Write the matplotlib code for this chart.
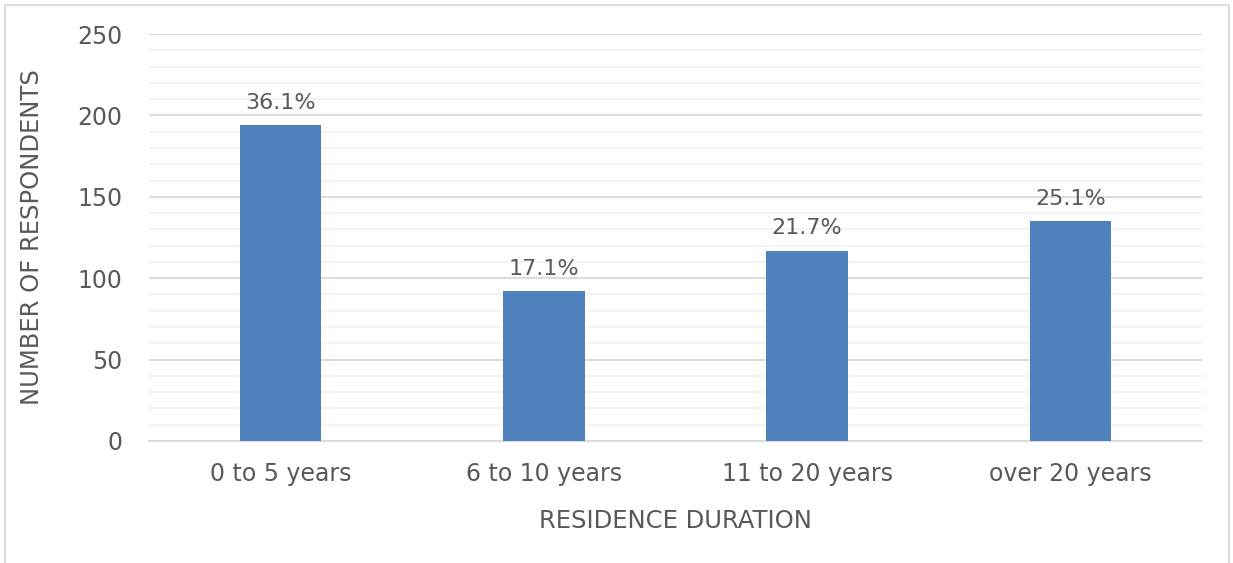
import matplotlib.pyplot as plt
from matplotlib.lines import Line2D
import numpy as np

plt.rcParams['font.family'] = ['DejaVu Sans']

categories = ['0 to 5 years', '6 to 10 years', '11 to 20 years', 'over 20 years']
counts = [194, 92, 117, 135]
y_ticks = [0, 50, 100, 150, 200, 250]

text_color = '#595959'
bar_color = '#4F81BD'

total = sum(counts)
shares = [c / total * 100 for c in counts]

fig = plt.figure(figsize=(12.33, 5.63), dpi=100)
ax = fig.add_axes([149 / 1233, 1 - 441 / 563, (1202 - 149) / 1233, (441 - 34) / 563])

x = np.arange(len(categories))
bars = ax.bar(x, counts, width=0.31, color=bar_color, zorder=3)

for b, s in zip(bars, shares):
    ax.annotate(f'{s:.1f}%', (b.get_x() + b.get_width() / 2, b.get_height()),
                xytext=(0, 12), textcoords='offset points', ha='center', va='baseline',
                fontsize=16, color=text_color)

ax.set_xlim(-0.5, len(categories) - 0.5)
ax.set_ylim(0, 250)
ax.set_yticks(y_ticks)
ax.set_yticks(np.arange(0, 251, 10), minor=True)
ax.set_xticks(x)
ax.set_xticklabels(categories)
ax.grid(axis='y', which='major', color='#D9D9D9', linewidth=1.3, zorder=0)
ax.grid(axis='y', which='minor', color='#F2F2F2', linewidth=1.3, zorder=0)
ax.tick_params(axis='both', which='both', length=0, labelsize=17, colors=text_color)
ax.tick_params(axis='x', pad=15)
ax.tick_params(axis='y', pad=19)
for side in ['top', 'right', 'left']:
    ax.spines[side].set_visible(False)
ax.spines['bottom'].set_color('#D9D9D9')
ax.spines['bottom'].set_linewidth(1.3)

ax.set_xlabel('RESIDENCE DURATION', fontsize=17.5, color=text_color, labelpad=17)
ax.set_ylabel('NUMBER OF RESPONDENTS', fontsize=17.5, color=text_color, labelpad=24)

# light frame around the chart, open at the bottom
frame_x = [5 / 1233, 5 / 1233, 1229 / 1233, 1229 / 1233]
frame_y = [-0.1, 1 - 5 / 563, 1 - 5 / 563, -0.1]
fig.add_artist(Line2D(frame_x, frame_y, color='#D9D9D9', linewidth=1.3, transform=fig.transFigure))

fig.savefig('out.png', dpi=100)
